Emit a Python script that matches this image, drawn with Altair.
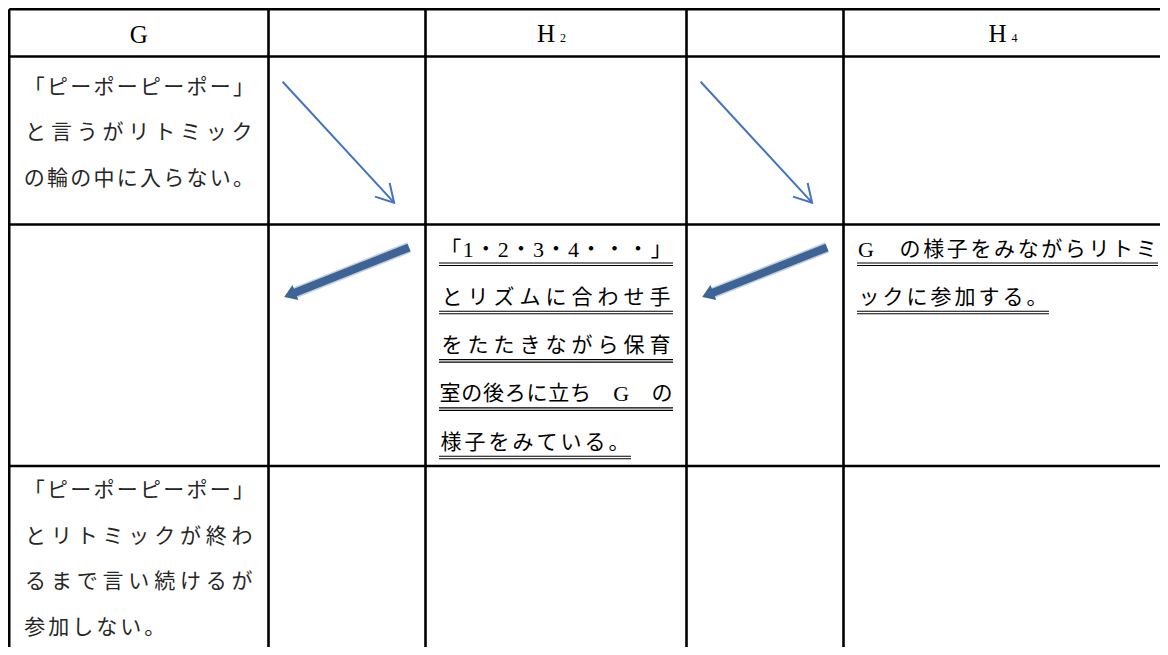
import math
import altair as alt
import pandas as pd

# ---------------- data ----------------
col_edges = [9.2, 268.5, 425.5, 686.5, 843.5, 1171.5]
row_edges = [9.2, 56.5, 224.5, 466.0, 655.0]

header_main = ["G", "", "H", "", "H"]
header_sub = ["", "", "2", "", "4"]

cell_r1_c1 = ["「ピーポーピーポー」", "と言うがリトミック", "の輪の中に入らない。"]
cell_r2_c3 = ["「1・2・3・4・・・」", "とリズムに合わせ手", "をたたきながら保育",
              "室の後ろに立ち G の", "様子をみている。"]
cell_r2_c5 = ["G の様子をみながらリトミ", "ックに参加する。"]
cell_r3_c1 = ["「ピーポーピーポー」", "とリトミックが終わ", "るまで言い続けるが", "参加しない。"]

# (row, col, lines, underlined)
cells = [(1, 0, cell_r1_c1, False), (2, 2, cell_r2_c3, True),
         (2, 4, cell_r2_c5, True), (3, 0, cell_r3_c1, False)]

thin_arrow_cells = [(1, 1), (1, 3)]
thick_arrow_cells = [(2, 1), (2, 3)]

# ---------------- layout ----------------
W_PX, H_PX = 1152, 639
X0, Y0 = 8, 8
XS = alt.Scale(domain=[X0, X0 + W_PX], nice=False, zero=False)
YS = alt.Scale(domain=[Y0, Y0 + H_PX], nice=False, zero=False, reverse=True)
XR, YB = X0 + W_PX, Y0 + H_PX

E = 24.0
PAD = 13.5
ROW_TEXT_OFFSET = {1: 31.0, 2: 25.0, 3: 25.0}
ROW_LINE_STEP = {1: 45.7, 2: 48.3, 3: 45.7}
THIN = "#4472C4"
THICK = "#3E6496"


def weight(ch):
    if ch == " ":
        return 1.0
    if ch.isascii() and ch.isdigit():
        return 0.5
    if ch.isascii():
        return 0.75
    return 1.0


chars, ulines = [], []
for row, col, lines, ul in cells:
    L = col_edges[col] + PAD
    R = col_edges[col + 1] - PAD
    top = row_edges[row]
    first = top + ROW_TEXT_OFFSET[row]
    step = ROW_LINE_STEP[row]
    for i, line in enumerate(lines):
        W = sum(weight(c) for c in line)
        last = i == len(lines) - 1
        pitch = (R - L) / W if not last else min(E, (R - L) / W)
        y = first + i * step
        cum = L
        for c in line:
            w = weight(c) * pitch
            if c != " ":
                chars.append(dict(x=cum + w / 2, y=y, t=c, latin=c.isascii(),
                                  c="#000000" if ul else "#262626"))
            cum += w
        if ul:
            ulines.append(dict(x=L, x2=cum, y=y + 13.5, y2=y + 13.5))
            ulines.append(dict(x=L, x2=cum, y=y + 16, y2=y + 16))

chars_df = pd.DataFrame(chars)
cjk_df = chars_df[~chars_df["latin"]]
lat_df = chars_df[chars_df["latin"]]
ul_df = pd.DataFrame(ulines)

# grid lines
grid = []
for y in row_edges[:4]:
    grid.append(dict(x=col_edges[0], x2=XR, y=y, y2=y))
for x in col_edges[:5]:
    grid.append(dict(x=x, x2=x, y=row_edges[0], y2=YB))
grid_df = pd.DataFrame(grid)

# header
hdr_main, hdr_sub = [], []
for i, (m, s) in enumerate(zip(header_main, header_sub)):
    cc = (col_edges[i] + col_edges[i + 1]) / 2
    if m and not s:
        hdr_main.append(dict(x=cc, y=42.5, t=m))
    elif m:
        hdr_main.append(dict(x=cc - 10, y=42, t=m))
        hdr_sub.append(dict(x=cc + 7, y=42, t=s))
hm_df = pd.DataFrame(hdr_main)
hs_df = pd.DataFrame(hdr_sub)


def cell_point(row, col, fx, fy):
    x0, x1 = col_edges[col], col_edges[col + 1]
    y0, y1 = row_edges[row], row_edges[row + 1]
    return x0 + fx * (x1 - x0), y0 + fy * (y1 - y0)


thin_sh, thin_hd = [], []
for r, c in thin_arrow_cells:
    xa, ya = cell_point(r, c, 0.09, 0.15)
    xb, yb = cell_point(r, c, 0.80, 0.87)
    th = math.degrees(math.atan2(yb - ya, xb - xa))
    thin_sh.append(dict(x=xa, y=ya, x2=xb, y2=yb))
    thin_hd.append(dict(x=xb, y=yb, ang=(th + 90) % 360))

thick_sh, thick_hd = [], []
for r, c in thick_arrow_cells:
    xa, ya = cell_point(r, c, 0.895, 0.095)
    xb, yb = cell_point(r, c, 0.10, 0.30)
    th = math.atan2(yb - ya, xb - xa)
    xe, ye = xb - 10 * math.cos(th), yb - 10 * math.sin(th)
    thick_sh.append(dict(x=xa, y=ya, x2=xe, y2=ye))
    thick_hd.append(dict(x=xb, y=yb, ang=(math.degrees(th) + 90) % 360))

thin_sh_df = pd.DataFrame(thin_sh)
thin_hd_df = pd.DataFrame(thin_hd)
thick_sh_df = pd.DataFrame(thick_sh)
thick_hd_df = pd.DataFrame(thick_hd)

xe_ = alt.X("x:Q", scale=XS, axis=None)
ye_ = alt.Y("y:Q", scale=YS, axis=None)

grid_layer = alt.Chart(grid_df).mark_rule(color="#000000", strokeWidth=2.6).encode(
    x=xe_, y=ye_, x2="x2:Q", y2="y2:Q")

ul_layer = alt.Chart(ul_df).mark_rule(color="#000000", strokeWidth=1.1).encode(
    x=xe_, y=ye_, x2="x2:Q", y2="y2:Q")

cjk_layer = alt.Chart(cjk_df).mark_text(
    font="Noto Sans CJK JP", fontSize=21, align="center", baseline="middle"
).encode(x=xe_, y=ye_, text="t:N", color=alt.Color("c:N", scale=None))

lat_layer = alt.Chart(lat_df).mark_text(
    font="Liberation Serif", fontSize=22, align="center", baseline="middle"
).encode(x=xe_, y=ye_, text="t:N", color=alt.Color("c:N", scale=None))

hm_layer = alt.Chart(hm_df).mark_text(
    font="Liberation Serif", fontSize=25, align="center", baseline="alphabetic", color="#000000"
).encode(x=xe_, y=ye_, text="t:N")

hs_layer = alt.Chart(hs_df).mark_text(
    font="Liberation Serif", fontSize=12, align="center", baseline="alphabetic", color="#000000"
).encode(x=xe_, y=ye_, text="t:N")

thin_shaft = alt.Chart(thin_sh_df).mark_rule(color=THIN, strokeWidth=2).encode(
    x=xe_, y=ye_, x2="x2:Q", y2="y2:Q")
thin_head = alt.Chart(thin_hd_df).mark_point(
    shape="M-0.5,0.87L0,0L0.5,0.87", size=1600, filled=False, strokeWidth=2,
    color=THIN, opacity=1
).encode(x=xe_, y=ye_, angle=alt.Angle("ang:Q", scale=None))

thick_blur = alt.Chart(thick_sh_df).mark_rule(color=THICK, strokeWidth=11, opacity=0.3).encode(
    x=xe_, y=ye_, x2="x2:Q", y2="y2:Q")
thick_shaft = alt.Chart(thick_sh_df).mark_rule(color=THICK, strokeWidth=8).encode(
    x=xe_, y=ye_, x2="x2:Q", y2="y2:Q")
thick_head = alt.Chart(thick_hd_df).mark_point(
    shape="M0,0L1,1.5L-1,1.5Z", size=256, filled=True, color=THICK, opacity=1, strokeWidth=0
).encode(x=xe_, y=ye_, angle=alt.Angle("ang:Q", scale=None))

chart = alt.layer(
    grid_layer, ul_layer, thin_shaft, thin_head, thick_blur, thick_shaft, thick_head,
    cjk_layer, lat_layer, hm_layer, hs_layer
).properties(
    width=W_PX, height=H_PX, padding=0, autosize=alt.AutoSizeParams(type="none")
).configure_view(stroke=None)

chart.save("out.html", embed_options={"renderer": "svg", "actions": False})
